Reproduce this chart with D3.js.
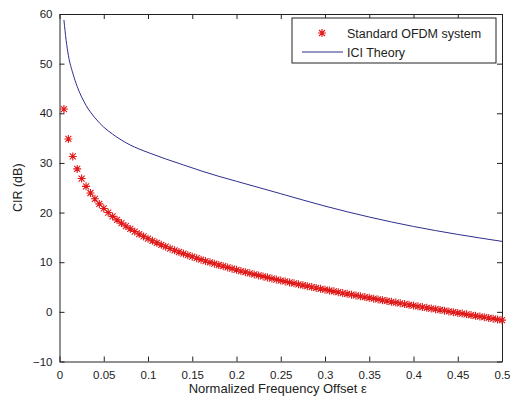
<!DOCTYPE html>
<html>
<head>
<meta charset="utf-8">
<script src="https://cdn.jsdelivr.net/npm/d3@7"></script>
<style>
  body { margin: 0; background: #fff; }
  text { font-family: "Liberation Sans", Arial, sans-serif; fill: #222; }
</style>
</head>
<body>
<div id="chart"></div>
<script>
// simulated CIR, one star every 0.005
const ofdmOffset = d3.range(1, 101).map((k) => +(k * 0.005).toFixed(3));
const ofdmCir = [
  40.85, 34.83, 31.30, 28.80, 26.86, 25.28, 23.94, 22.77, 21.75, 20.83,
  20.00, 19.23, 18.53, 17.88, 17.28, 16.71, 16.18, 15.67, 15.20, 14.74,
  14.31, 13.90, 13.50, 13.12, 12.75, 12.40, 12.06, 11.74, 11.42, 11.11,
  10.81, 10.52, 10.24, 9.97, 9.70, 9.44, 9.19, 8.94, 8.69, 8.46,
  8.22, 8.00, 7.77, 7.55, 7.34, 7.13, 6.92, 6.71, 6.51, 6.31,
  6.12, 5.93, 5.74, 5.55, 5.36, 5.18, 5.00, 4.82, 4.65, 4.47,
  4.30, 4.13, 3.96, 3.79, 3.63, 3.46, 3.30, 3.14, 2.97, 2.82,
  2.66, 2.50, 2.34, 2.19, 2.03, 1.88, 1.73, 1.57, 1.42, 1.27,
  1.12, 0.97, 0.82, 0.67, 0.53, 0.38, 0.23, 0.08, -0.06, -0.21,
  -0.35, -0.50, -0.65, -0.79, -0.94, -1.08, -1.23, -1.37, -1.52, -1.67
];

// theory curve
const theoryOffset = [0.005, 0.0075, 0.01, 0.015, 0.02, 0.03, 0.04, 0.05, 0.06, 0.07,
  0.08, 0.09, 0.1, 0.12, 0.14, 0.16, 0.18, 0.2, 0.25, 0.3, 0.35, 0.4, 0.45, 0.5];
const theoryCir = [58.8, 54.7, 51.7, 48.1, 45.4, 41.6, 39.1, 37.2, 35.8, 34.6,
  33.6, 32.8, 32.1, 30.8, 29.6, 28.4, 27.3, 26.3, 23.8, 21.3, 19.1, 17.2, 15.6, 14.2];

const xTicks = [0, 0.05, 0.1, 0.15, 0.2, 0.25, 0.3, 0.35, 0.4, 0.45, 0.5];
const yTicks = [-10, 0, 10, 20, 30, 40, 50, 60];

const width = 510, height = 400;
const margin = { top: 14, right: 8, bottom: 38.5, left: 59.5 };
const w = width - margin.left - margin.right;
const h = height - margin.top - margin.bottom;

const svg = d3.select("#chart").append("svg")
  .attr("width", width)
  .attr("height", height);

const g = svg.append("g")
  .attr("transform", `translate(${margin.left},${margin.top})`);

const x = d3.scaleLinear().domain([0, 0.5]).range([0, w]);
const y = d3.scaleLinear().domain([-10, 60]).range([h, 0]);

// axes, ticks pointing inwards like matlab
const fmt = d3.format(".2~f");
g.append("g").attr("transform", `translate(0,${h})`)
  .call(d3.axisBottom(x).tickValues(xTicks).tickFormat(fmt).tickSizeInner(-5).tickSizeOuter(0).tickPadding(9));
g.append("g")
  .call(d3.axisTop(x).tickValues(xTicks).tickFormat("").tickSizeInner(-5).tickSizeOuter(0));
g.append("g")
  .call(d3.axisLeft(y).tickValues(yTicks).tickSizeInner(-5).tickSizeOuter(0).tickPadding(7));
g.append("g").attr("transform", `translate(${w},0)`)
  .call(d3.axisRight(y).tickValues(yTicks).tickFormat("").tickSizeInner(-5).tickSizeOuter(0));

g.selectAll(".domain").attr("stroke", "#222");
g.selectAll(".tick line").attr("stroke", "#222");
g.selectAll(".tick text").attr("font-size", 11.5).attr("fill", "#222")
  .attr("font-family", "Liberation Sans, Arial, sans-serif");

// theory line
g.append("path")
  .datum(theoryOffset.map((d, i) => [d, theoryCir[i]]))
  .attr("fill", "none")
  .attr("stroke", "#2e2e8e")
  .attr("stroke-width", 1)
  .attr("d", d3.line().x((d) => x(d[0])).y((d) => y(d[1])).curve(d3.curveMonotoneX));

// star markers
const star = "M-4,0H4M0,-4V4M-3,-3L3,3M-3,3L3,-3";
g.selectAll(".star")
  .data(ofdmOffset.map((d, i) => [d, ofdmCir[i]]))
  .enter()
  .append("path")
  .attr("class", "star")
  .attr("transform", (d) => `translate(${x(d[0])},${y(d[1])})`)
  .attr("d", star)
  .attr("stroke", "#e01818")
  .attr("stroke-width", 1.1)
  .attr("fill", "none");

// legend
const lg = svg.append("g").attr("transform", "translate(292,18)");
lg.append("rect").attr("width", 204).attr("height", 45)
  .attr("fill", "#fff").attr("stroke", "#222");
lg.append("path").attr("transform", "translate(30,15)").attr("d", star)
  .attr("stroke", "#e01818").attr("stroke-width", 1.1);
lg.append("text").attr("x", 55).attr("y", 19.5).attr("font-size", 12.5)
  .text("Standard OFDM system");
lg.append("line").attr("x1", 10).attr("x2", 51).attr("y1", 34).attr("y2", 34)
  .attr("stroke", "#2e2e8e");
lg.append("text").attr("x", 55).attr("y", 38.5).attr("font-size", 12.5)
  .text("ICI Theory");

// axis labels
svg.append("text")
  .attr("x", margin.left + w / 2 - 3)
  .attr("y", 393)
  .attr("text-anchor", "middle")
  .attr("font-size", 13)
  .text("Normalized Frequency Offset ε");

svg.append("text")
  .attr("transform", `translate(22,${margin.top + h / 2}) rotate(-90)`)
  .attr("text-anchor", "middle")
  .attr("font-size", 12.5)
  .text("CIR (dB)");
</script>
</body>
</html>
